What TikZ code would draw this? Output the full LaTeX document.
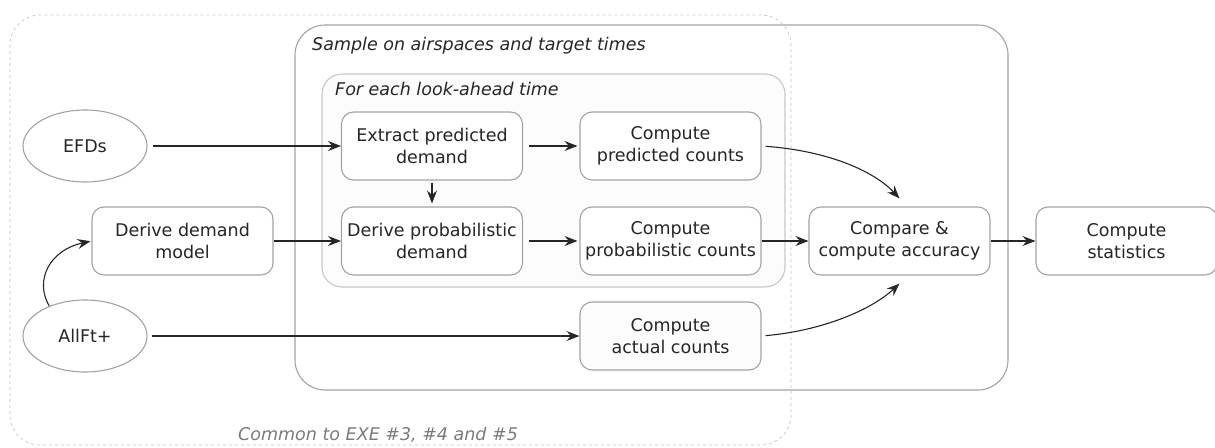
\documentclass[tikz,border=0pt]{standalone}
\usepackage{fontspec}
\setmainfont{DejaVu Sans}
\usetikzlibrary{arrows.meta,shapes.geometric,calc}
\definecolor{boxgray}{HTML}{A3A3A3}
\definecolor{innergray}{HTML}{C8C8C8}
\definecolor{dashgray}{HTML}{C4C4C4}
\definecolor{innerfill}{HTML}{FCFCFC}
\definecolor{txt}{HTML}{262626}
\definecolor{notetxt}{HTML}{7A7A7A}
\begin{document}
\begin{tikzpicture}[x=1pt,y=-1pt,
  box/.style={draw=boxgray, line width=1.1pt, rounded corners=12pt, fill=white,
    minimum width=181pt, minimum height=68pt, inner sep=0pt, align=center,
    font=\fontsize{17.5}{22.5}\selectfont, text=txt},
  ell/.style={ellipse, draw=boxgray, line width=1.1pt, fill=white,
    minimum width=124pt, minimum height=72pt, inner sep=0pt,
    font=\fontsize{17.5}{22.5}\selectfont, text=txt},
  arr/.style={-{Stealth[length=13pt,width=10pt,inset=4.5pt]}, line width=1.1pt, draw=black!85},
  title/.style={anchor=west, inner sep=0pt, font=\fontsize{17.5}{22.5}\selectfont\itshape, text=txt},
  note/.style={anchor=west, inner sep=0pt, font=\fontsize{17.5}{22.5}\selectfont\itshape, text=notetxt}]
\useasboundingbox (0,0) rectangle (1215,447);

% sample container
\draw[draw=boxgray, line width=1.1pt, rounded corners=30pt] (295,25) rectangle (1008,390);
% common dashed container
\draw[draw=dashgray, line width=0.7pt, dash pattern=on 3pt off 3pt, rounded corners=30pt] (10,15) rectangle (791,445);
% look-ahead container
\draw[draw=innergray, line width=1.1pt, fill=innerfill, rounded corners=20pt] (322,74) rectangle (785,287);

\node[title] (tsample) at (312,46) {Sample on airspaces and target times};
\node[title] (tlook) at (335,89) {For each look-ahead time};
\node[note] (tcommon) at (238,435) {Common to EXE \#3, \#4 and \#5};

\node[ell] (efd) at (85,146) {EFDs};
\node[ell] (allft) at (85,336) {AllFt+};
\node[box] (ddm) at (182.5,241) {Derive demand\\model};
\node[box] (epd) at (432,146) {Extract predicted\\demand};
\node[box] (dpd) at (432,241) {Derive probabilistic\\demand};
\node[box] (cpc) at (670.5,146) {Compute\\predicted counts};
\node[box] (cprob) at (670.5,241) {Compute\\probabilistic counts};
\node[box, fill=innerfill] (cac) at (670.5,336) {Compute\\actual counts};
\node[box] (cmp) at (899.5,241) {Compare \&\\compute accuracy};
\node[box] (cst) at (1126.5,241) {Compute\\statistics};

\draw[arr, shorten <=5pt] (efd) -- (epd);
\draw[arr, shorten <=4pt] (allft) -- (cac);
\draw[arr] (ddm) -- (dpd);
\draw[arr, shorten <=6pt, shorten >=2pt] (epd) -- (cpc);
\draw[arr, shorten <=6pt, shorten >=2pt] (dpd) -- (cprob);
\draw[arr, shorten <=2pt, shorten >=3pt] (epd) -- (dpd);
\draw[arr] (cprob) -- (cmp);
\draw[arr] (cmp) -- (cst);
\draw[arr, shorten <=4pt] (cpc.east) .. controls (830,151) and (875,172) .. ($(cmp.north)+(0,-8)$);
\draw[arr, shorten <=4pt] (cac.east) .. controls (820,331) and (870,311) .. ($(cmp.south)+(0,8)$);
\draw[arr, shorten >=1pt] (allft.140) .. controls (34,280) and (50,250) .. (ddm.west);
\end{tikzpicture}
\end{document}
